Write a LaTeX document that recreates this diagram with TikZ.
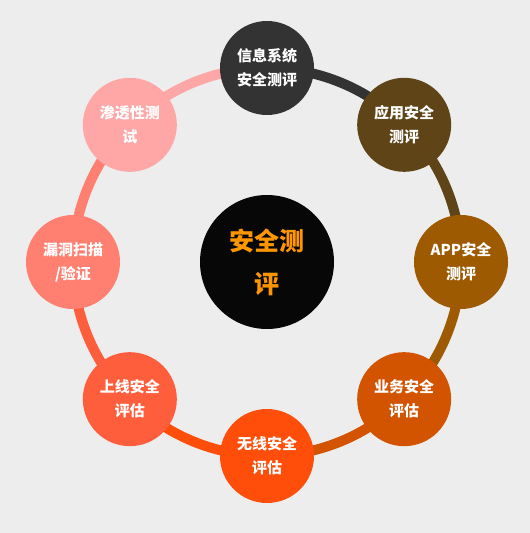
\documentclass[tikz,border=0pt]{standalone}
\usepackage{fontspec}
\setmainfont{Noto Sans CJK SC}
\begin{document}
\begin{tikzpicture}[x=1pt,y=1pt,
  seg/.style={line width=10pt},
  outer/.style={circle, minimum size=94pt, inner sep=0pt, text=white, align=center,
     font=\bfseries\fontsize{15}{24}\selectfont},
  hub/.style={circle, minimum size=134pt, inner sep=0pt, fill=hubfill, text=hubtext, align=center,
     font=\bfseries\fontsize{25}{43}\selectfont}]
\definecolor{bg}{HTML}{EDEDED}
\definecolor{ca}{HTML}{333333}
\definecolor{cb}{HTML}{5E4416}
\definecolor{cc}{HTML}{9E5A00}
\definecolor{cd}{HTML}{D35400}
\definecolor{ce}{HTML}{FF4E0A}
\definecolor{cf}{HTML}{FF5E3C}
\definecolor{cg}{HTML}{FF7F70}
\definecolor{ch}{HTML}{FFA6A6}
\definecolor{hubfill}{HTML}{070707}
\definecolor{hubtext}{HTML}{FF9600}
\fill[bg] (0,0) rectangle (530,533);
\useasboundingbox (0,0) rectangle (530,533);
\coordinate (C) at (267,271);
\path (C) ++(90:194) coordinate (pa);
\path (C) ++(45:194) coordinate (pb);
\path (C) ++(0:194) coordinate (pc);
\path (C) ++(-45:194) coordinate (pd);
\path (C) ++(-90:194) coordinate (pe);
\path (C) ++(-135:194) coordinate (pf);
\path (C) ++(180:194) coordinate (pg);
\path (C) ++(135:194) coordinate (ph);
% ring segments
\draw[seg, ca] (pa) arc[start angle=90, end angle=45, radius=194];
\draw[seg, cb] (pb) arc[start angle=45, end angle=0, radius=194];
\draw[seg, cc] (pc) arc[start angle=0, end angle=-45, radius=194];
\draw[seg, cd] (pd) arc[start angle=-45, end angle=-90, radius=194];
\draw[seg, ce] (pe) arc[start angle=-90, end angle=-135, radius=194];
\draw[seg, cf] (pf) arc[start angle=-135, end angle=-180, radius=194];
\draw[seg, cg] (pg) arc[start angle=180, end angle=135, radius=194];
\draw[seg, ch] (ph) arc[start angle=135, end angle=90, radius=194];
% nodes
\node[hub] (hub) at (C) {安全测\\评};
\node[outer, fill=ca] (na) at (pa) {信息系统\\安全测评};
\node[outer, fill=cb] (nb) at (pb) {应用安全\\测评};
\node[outer, fill=cc] (nc) at (pc) {APP安全\\测评};
\node[outer, fill=cd] (nd) at (pd) {业务安全\\评估};
\node[outer, fill=ce] (ne) at (pe) {无线安全\\评估};
\node[outer, fill=cf] (nf) at (pf) {上线安全\\评估};
\node[outer, fill=cg] (ng) at (pg) {漏洞扫描\\/验证};
\node[outer, fill=ch] (nh) at (ph) {渗透性测\\试};
\end{tikzpicture}
\end{document}
